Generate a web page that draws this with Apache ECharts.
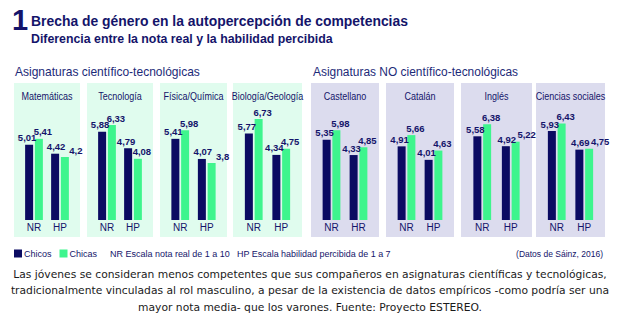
<!DOCTYPE html>
<html>
<head>
<meta charset="utf-8">
<script src="https://cdn.jsdelivr.net/npm/echarts@6/dist/echarts.min.js"></script>
<style>
  html, body { margin: 0; padding: 0; background: #ffffff; }
  #chart { width: 620px; height: 328px; }
</style>
</head>
<body>
<div id="chart"></div>
<script>
// Subjects, grouped by panel block
const subjects = ['Matemáticas', 'Tecnología', 'Física/Química', 'Biología/Geología',
                  'Castellano', 'Catalán', 'Inglés', 'Ciencias sociales'];
// Category labels under each panel (NR = nota real, HP = habilidad percibida)
const categoryLabels = [
  ['NR', 'HP'], ['NR', 'HP'], ['NR', 'HP'], ['NR', 'HP'],
  ['NR', 'HR'], ['NR', 'HP'], ['NR', 'HP'], ['NR', 'HP']
];
// Values per subject: [NR, HP]
const chicos = [
  [5.01, 4.42], [5.88, 4.79], [5.41, 4.07], [5.77, 4.34],
  [5.35, 4.33], [4.91, 4.01], [5.58, 4.92], [5.93, 4.69]
];
const chicas = [
  [5.41, 4.2], [6.33, 4.08], [5.98, 3.8], [6.73, 4.75],
  [5.98, 4.85], [5.66, 4.63], [6.38, 5.22], [6.43, 4.75]
];
const seriesNames = ['Chicos', 'Chicas'];

const NAVY = '#0b0b62';
const GREEN = '#3ef58d';
const TEXT = '#14146a';
const SANS = '"Liberation Sans", Arial, sans-serif';

// Horizontal squeeze so a text fills a given width (condensed look)
const measureCtx = document.createElement('canvas').getContext('2d');
function fitScale(text, font, width) {
  measureCtx.font = font;
  return width / measureCtx.measureText(text).width;
}
function label(text, x, y, size, width, opts = {}) {
  const font = (opts.bold ? 'bold ' : '') + size + 'px ' + (opts.family || SANS);
  const s = width ? fitScale(text, font, width) : 1;
  return {
    type: 'text', silent: true, x, y, scaleX: s,
    style: {
      text, font, fill: opts.color || TEXT,
      textAlign: opts.align || 'left', textVerticalAlign: 'middle'
    }
  };
}

// Panel placement: first four on mint background, last four on lavender
const panelX = [14, 87, 160, 233, 311, 386, 461, 536];
const panelW = [66, 66, 67, 69, 68, 68, 71, 69];
const panelTop = 83, panelBottom = 237;

const grids = [], xAxes = [], yAxes = [], series = [], graphics = [];

const fmt = v => String(v).replace('.', ',');

subjects.forEach((name, i) => {
  const px = panelX[i], pw = panelW[i];
  graphics.push({
    type: 'rect', z: -10, silent: true,
    shape: { x: px, y: panelTop, width: pw, height: panelBottom - panelTop },
    style: { fill: i < 4 ? '#e0fcee' : '#dcdcee' }
  });
  const t = label(name, px + pw / 2, 96, 10, 0, { align: 'center' });
  t.scaleX = 0.9;
  graphics.push(t);
  grids.push({ left: px + 7, width: pw - 14, top: 100, height: 120 });
  xAxes.push({
    type: 'category', gridIndex: i, data: categoryLabels[i],
    axisLine: { show: false }, axisTick: { show: false },
    axisLabel: { color: TEXT, fontFamily: SANS, fontSize: 10, margin: 2 }
  });
  yAxes.push({ type: 'value', gridIndex: i, min: 0, max: 8, show: false, splitLine: { show: false } });
  [chicos, chicas].forEach((src, k) => {
    series.push({
      name: seriesNames[k], type: 'bar', xAxisIndex: i, yAxisIndex: i,
      barWidth: 8, barGap: '22%',
      itemStyle: { color: k === 0 ? NAVY : GREEN },
      data: src[i].map((v, c) => {
        // pairs of nearly equal bars get their labels nudged right so they sit side by side
        const close = Math.abs(chicos[i][c] - chicas[i][c]) < 0.35;
        const dx = k === 0 ? (close ? 1 : -2) : (close ? 11 : 4);
        return { value: v, label: { offset: [dx, 0] } };
      }),
      label: {
        show: true, position: 'top', distance: 2,
        color: TEXT, fontFamily: SANS, fontWeight: 'bold', fontSize: 9.5,
        formatter: p => fmt(p.value)
      }
    });
  });
});

// Heading block
graphics.push(
  label('1', 12, 19.5, 29, 0, { bold: true }),
  label('Brecha de género en la autopercepción de competencias', 31, 21, 15.5, 377, { bold: true }),
  label('Diferencia entre la nota real y la habilidad percibida', 31, 39, 12.5, 302, { bold: true }),
  label('Asignaturas científico-tecnológicas', 15, 72, 12, 185, { color: '#1c2a78' }),
  label('Asignaturas NO científico-tecnológicas', 313, 72, 12, 205, { color: '#1c2a78' }),
  label('NR Escala nota real de 1 a 10', 110, 254, 9, 120),
  label('HP Escala habilidad percibida de 1 a 7', 237, 254, 9, 154),
  label('(Datos de Sáinz, 2016)', 603, 254, 9, 87, { align: 'right' })
);

// Caption under the chart
const caption = [
  'Las jóvenes se consideran menos competentes que sus compañeros en asignaturas científicas y tecnológicas,',
  'tradicionalmente vinculadas al rol masculino, a pesar de la existencia de datos empíricos -como podría ser una',
  'mayor nota media- que los varones. Fuente: Proyecto ESTEREO.'
];
const capFont = '11px "DejaVu Sans", sans-serif';
const capScale = fitScale(caption[0], capFont, 594);
caption.forEach((line, j) => {
  graphics.push({
    type: 'text', silent: true, x: 310, y: 274 + j * 16.5, scaleX: capScale,
    style: { text: line, fill: '#1a1a1a', font: capFont, textAlign: 'center', textVerticalAlign: 'middle' }
  });
});

const chart = echarts.init(document.getElementById('chart'), null, { renderer: 'svg' });
chart.setOption({
  animation: false,
  backgroundColor: '#ffffff',
  legend: {
    left: 14, top: 249, padding: 0, itemWidth: 8, itemHeight: 8, itemGap: 8,
    icon: 'rect', data: seriesNames, selectedMode: false,
    textStyle: { color: TEXT, fontFamily: SANS, fontSize: 9, padding: [0, 0, 0, -3] }
  },
  grid: grids, xAxis: xAxes, yAxis: yAxes, series: series,
  graphic: graphics
});
</script>
</body>
</html>
